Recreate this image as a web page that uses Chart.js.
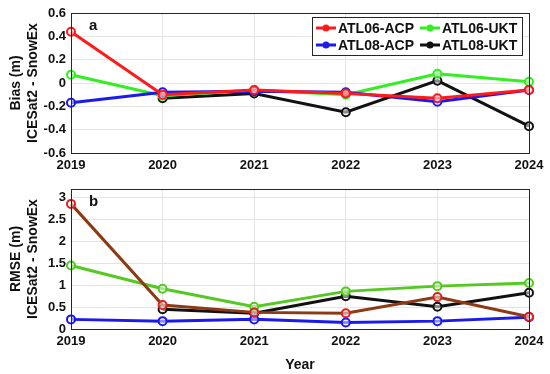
<!DOCTYPE html>
<html lang="en">
<head>
    <meta charset="UTF-8">
    <title>Bias and RMSE</title>
    <script src="https://cdn.jsdelivr.net/npm/chart.js"></script>
    <style>
        * {
            box-sizing: border-box;
            margin: 0;
            padding: 0;
        }

        body {
            width: 550px;
            height: 374px;
            background-color: #fff;
            position: relative;
            overflow: hidden;
        }

        #biasChart {
            position: absolute;
            left: 0;
            top: 0;
        }

        #rmseChart {
            position: absolute;
            left: 0;
            top: 170px;
        }
    </style>
</head>
<body>
    <canvas id="biasChart" width="550" height="170"></canvas>
    <canvas id="rmseChart" width="550" height="204"></canvas>

    <script>
        // Data
        const years = ['2019', '2020', '2021', '2022', '2023', '2024'];
        const seriesNames = ['ATL06-ACP', 'ATL08-ACP', 'ATL06-UKT', 'ATL08-UKT'];

        // panel a: bias (m)
        const biasAtl06Acp = [0.44, -0.10, -0.06, -0.09, -0.13, -0.06];
        const biasAtl08Acp = [-0.17, -0.08, -0.07, -0.08, -0.16, -0.06];
        const biasAtl06Ukt = [0.07, -0.11, -0.06, -0.10, 0.08, 0.01];
        const biasAtl08Ukt = [null, -0.13, -0.09, -0.25, 0.02, -0.37];
        const biasTicks = [-0.6, -0.4, -0.2, 0, 0.2, 0.4, 0.6];

        // panel b: RMSE (m)
        const rmseAtl06Acp = [2.86, 0.55, 0.38, 0.36, 0.73, 0.28];
        const rmseAtl08Acp = [0.22, 0.18, 0.22, 0.15, 0.18, 0.27];
        const rmseAtl06Ukt = [1.45, 0.92, 0.51, 0.86, 0.98, 1.05];
        const rmseAtl08Ukt = [null, 0.45, 0.36, 0.75, 0.51, 0.83];
        const rmseTicks = [0, 0.5, 1, 1.5, 2, 2.5, 3];

        const font = "'Liberation Sans', Arial, sans-serif";

        function makeSet(label, data, line, marker) {
            return {
                label: label,
                data: data,
                borderColor: line,
                backgroundColor: line,
                pointBorderColor: marker,
                pointBackgroundColor: 'rgba(255,255,255,0.5)',
                pointRadius: 4,
                pointBorderWidth: 2,
                borderWidth: 3,
                tension: 0,
                spanGaps: false
            };
        }

        // box around the plot + panel letter
        const boxPlugin = {
            id: 'box',
            afterDraw(chart, args, opts) {
                const a = chart.chartArea;
                const ctx = chart.ctx;
                ctx.save();
                ctx.strokeStyle = '#262626';
                ctx.lineWidth = 1;
                ctx.strokeRect(a.left + 0.5, a.top + 0.5, a.right - a.left, a.bottom - a.top);
                ctx.fillStyle = '#111';
                ctx.font = 'bold 15px ' + font;
                ctx.textBaseline = 'middle';
                ctx.fillText(opts.letter, a.left + 18, a.top + 13);
                ctx.restore();
            }
        };

        // legend drawn inside the top panel, two columns
        const legendPlugin = {
            id: 'boxLegend',
            afterDraw(chart) {
                const ctx = chart.ctx;
                const a = chart.chartArea;
                const x0 = a.right - 217, y0 = a.top + 4, w = 210, h = 38;
                ctx.save();
                ctx.fillStyle = '#fff';
                ctx.fillRect(x0, y0, w, h);
                ctx.strokeStyle = '#262626';
                ctx.lineWidth = 1;
                ctx.strokeRect(x0 + 0.5, y0 + 0.5, w, h);
                ctx.font = 'bold 14px ' + font;
                ctx.textBaseline = 'middle';
                chart.data.datasets.forEach((ds, i) => {
                    const col = Math.floor(i / 2);
                    const row = i % 2;
                    const lx = x0 + 4 + col * 104;
                    const ly = y0 + 11 + row * 17;
                    ctx.strokeStyle = ds.borderColor;
                    ctx.lineWidth = 3;
                    ctx.beginPath();
                    ctx.moveTo(lx, ly);
                    ctx.lineTo(lx + 20, ly);
                    ctx.stroke();
                    ctx.fillStyle = ds.borderColor;
                    ctx.beginPath();
                    ctx.arc(lx + 10, ly, 3.5, 0, Math.PI * 2);
                    ctx.fill();
                    ctx.fillStyle = '#111';
                    ctx.fillText(ds.label, lx + 22, ly + 1);
                });
                ctx.restore();
            }
        };

        function axes(yTicks, yMin, yMax, titleLines, xHeight, showYear) {
            return {
                x: {
                    type: 'category',
                    offset: false,
                    afterFit: (s) => { s.height = xHeight; },
                    grid: { color: '#e4e4e4', drawTicks: false },
                    border: { color: '#262626' },
                    ticks: { color: '#111', padding: 5, maxRotation: 0, font: { family: font, size: 13, weight: 'bold' } },
                    title: {
                        display: showYear,
                        text: 'Year',
                        color: '#111',
                        padding: { top: 2, bottom: 0 },
                        font: { family: font, size: 14, weight: 'bold' }
                    }
                },
                y: {
                    min: yMin,
                    max: yMax,
                    afterFit: (s) => { s.width = 71; },
                    afterBuildTicks: (s) => { s.ticks = yTicks.map(v => ({ value: v })); },
                    grid: { color: '#e4e4e4', drawTicks: false },
                    border: { color: '#262626' },
                    ticks: {
                        color: '#111',
                        padding: 5,
                        font: { family: font, size: 13, weight: 'bold' },
                        callback: (v) => String(Math.round(v * 10) / 10)
                    },
                    title: {
                        display: true,
                        text: titleLines,
                        color: '#111',
                        padding: { top: 7, bottom: 2 },
                        font: { family: font, size: 14, weight: 'bold', lineHeight: 1.25 }
                    }
                }
            };
        }

        // Panel a (Bias)
        new Chart(document.getElementById('biasChart'), {
            type: 'line',
            data: {
                labels: years,
                datasets: [
                    makeSet(seriesNames[0], biasAtl06Acp, '#ff1a1a', '#ff1a1a'),
                    makeSet(seriesNames[1], biasAtl08Acp, '#1a1aee', '#1a1aee'),
                    makeSet(seriesNames[2], biasAtl06Ukt, '#33ee22', '#33ee22'),
                    makeSet(seriesNames[3], biasAtl08Ukt, '#111111', '#111111')
                ]
            },
            options: {
                responsive: false,
                animation: false,
                layout: { padding: { left: 0, right: 21, top: 13, bottom: 0 } },
                plugins: { legend: { display: false }, tooltip: { enabled: false }, box: { letter: 'a' } },
                scales: axes(biasTicks, -0.6, 0.6, ['Bias (m)', 'ICESat2 - SnowEx'], 17, false)
            },
            plugins: [boxPlugin, legendPlugin]
        });

        // Panel b (RMSE)
        new Chart(document.getElementById('rmseChart'), {
            type: 'line',
            data: {
                labels: years,
                datasets: [
                    makeSet(seriesNames[0], rmseAtl06Acp, '#8c3a14', '#e02020'),
                    makeSet(seriesNames[1], rmseAtl08Acp, '#1a1aee', '#1a1aee'),
                    makeSet(seriesNames[2], rmseAtl06Ukt, '#55c822', '#55c822'),
                    makeSet(seriesNames[3], rmseAtl08Ukt, '#111111', '#111111')
                ]
            },
            options: {
                responsive: false,
                animation: false,
                layout: { padding: { left: 0, right: 21, top: 19, bottom: 0 } },
                plugins: { legend: { display: false }, tooltip: { enabled: false }, box: { letter: 'b' } },
                scales: axes(rmseTicks, 0, 3.2, ['RMSE (m)', 'ICESat2 - SnowEx'], 45, true)
            },
            plugins: [boxPlugin]
        });
    </script>
</body>
</html>
